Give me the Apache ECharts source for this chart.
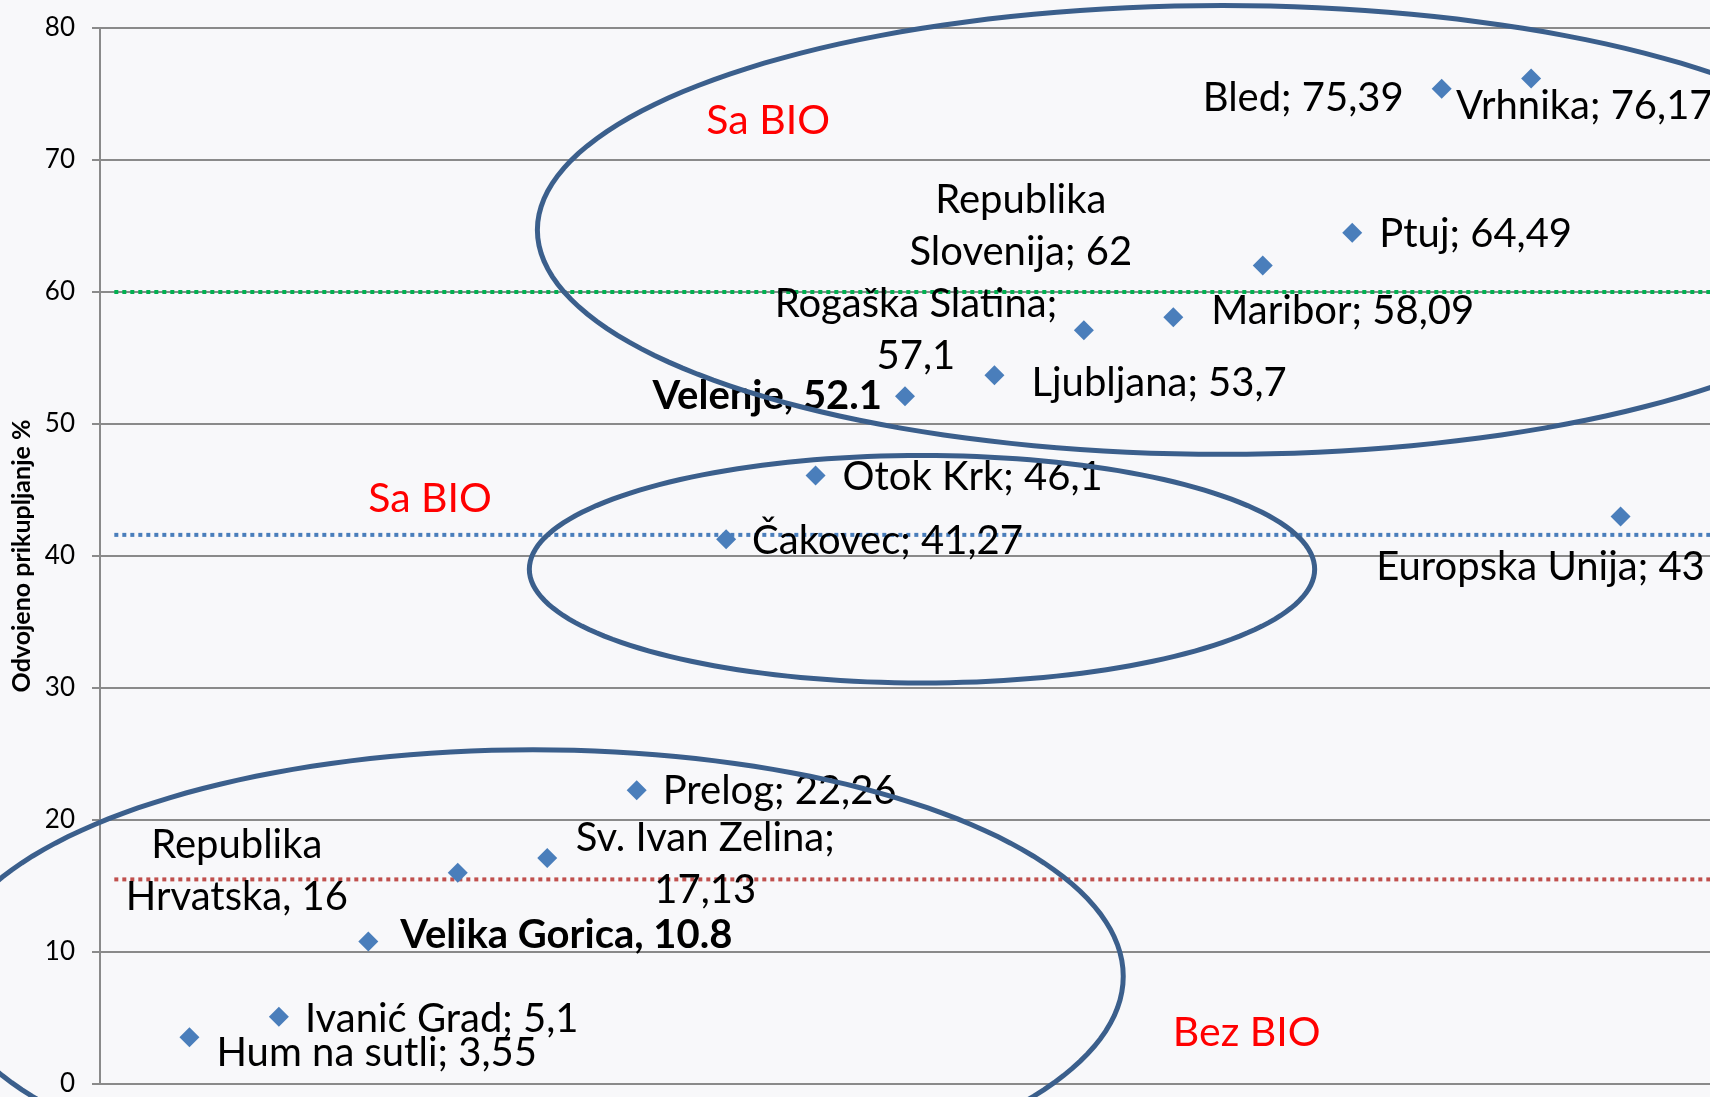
<!DOCTYPE html>
<html>
<head>
<meta charset="utf-8">
<script src="https://cdn.jsdelivr.net/npm/echarts@6/dist/echarts.min.js"></script>
<style>
  html, body { margin: 0; padding: 0; background: #f8f8fa; }
  #chart { width: 1710px; height: 1097px; }
</style>
</head>
<body>
<div id="chart"></div>
<script>
// gradovi / države, redom kao na slici
const places = [
  'Hum na sutli', 'Ivanić Grad', 'Velika Gorica', 'Republika Hrvatska', 'Sv. Ivan Zelina',
  'Prelog', 'Čakovec', 'Otok Krk', 'Velenje', 'Ljubljana', 'Rogaška Slatina', 'Maribor',
  'Republika Slovenija', 'Ptuj', 'Bled', 'Vrhnika', 'Europska Unija'
]
// odvojeno prikupljanje %
const values = [3.55, 5.1, 10.8, 16, 17.13, 22.26, 41.27, 46.1, 52.1, 53.7, 57.1, 58.09, 62, 64.49, 75.39, 76.17, 43]
// tekst oznaka kako je upisan u originalu
const labelTexts = [
  'Hum na sutli; 3,55', 'Ivanić Grad; 5,1', 'Velika Gorica, 10.8', 'Republika\nHrvatska, 16',
  'Sv. Ivan Zelina;\n17,13', 'Prelog; 22,26', 'Čakovec; 41,27', 'Otok Krk; 46,1', 'Velenje, 52.1',
  'Ljubljana; 53,7', 'Rogaška Slatina;\n57,1', 'Maribor; 58,09', 'Republika\nSlovenija; 62',
  'Ptuj; 64,49', 'Bled; 75,39', 'Vrhnika; 76,17', 'Europska Unija; 43'
]
const boldLabels = ['Velika Gorica', 'Velenje']
const yTicks = [0, 10, 20, 30, 40, 50, 60, 70, 80]

// referentne linije (prosjeci)
const refValues = [60, 41.6, 15.5]
const refColors = ['#00b050', '#4a7ebb', '#c0504d']

// elipse oko grupa: [centar x, centar y, radijus x, radijus y]
const groups = [
  [12.55, 64.7, 7.66, 17.0],
  [9.19, 39.0, 4.39, 8.62],
  [4.84, 8.16, 6.6, 17.16]
]
// natpisi grupa
const notes = ['Sa BIO', 'Sa BIO', 'Bez BIO']
const notePos = [[7.47, 73.0], [3.69, 44.3], [12.82, 3.9]]

// raspored oznaka: [poravnanje, dx, dy] u pikselima od točke
const labelLayout = [
  ['left', 27, 16], ['left', 26, 2], ['left', 32, -6], ['center', -221, -2],
  ['center', 158, 6], ['left', 26, 1], ['left', 26, 2], ['left', 27, 2],
  ['right', -23, 0], ['left', 37, 8], ['center', -168, 0], ['left', 38, -6],
  ['center', -242, -40], ['left', 27, 1], ['right', -38, 9], ['left', -75, 28],
  ['center', -80, 51]
]

const FONT = 'Lato'
const chart = echarts.init(document.getElementById('chart'))

const points = values.map((v, i) => {
  const lay = labelLayout[i]
  return {
    name: places[i],
    value: [i + 1, v],
    label: {
      formatter: labelTexts[i],
      position: [10 + lay[1], 10 + lay[2]],
      align: lay[0],
      verticalAlign: 'middle',
      fontWeight: boldLabels.includes(places[i]) ? 'bold' : 'normal'
    }
  }
})

const refSeries = refValues.map((v, i) => ({
  type: 'line',
  data: [[0.16, v], [18, v]],
  symbol: 'none',
  silent: true,
  z: 1,
  lineStyle: { color: refColors[i], width: 4, type: [4, 4], opacity: 1 }
}))

chart.setOption({
  backgroundColor: '#f8f8fa',
  animation: false,
  textStyle: { fontFamily: FONT },
  grid: { left: 100, right: 0, top: 28, bottom: 11 },
  xAxis: {
    type: 'value',
    min: 0,
    max: 18,
    axisLine: { lineStyle: { color: '#8a8a8a', width: 2 } },
    axisTick: { show: false },
    axisLabel: { show: false },
    splitLine: { show: false }
  },
  yAxis: {
    type: 'value',
    min: 0,
    max: 80,
    interval: 10,
    name: 'Odvojeno prikupljanje %',
    nameLocation: 'middle',
    nameGap: 63,
    nameTextStyle: { fontSize: 25, fontWeight: 'bold', color: '#000', fontFamily: FONT },
    axisLine: { show: true, lineStyle: { color: '#8a8a8a', width: 2 } },
    axisTick: { show: true, length: 8, lineStyle: { color: '#8a8a8a', width: 2 } },
    axisLabel: {
      color: '#000',
      fontSize: 26,
      margin: 25,
      formatter: v => (yTicks.includes(v) ? String(v) : '')
    },
    splitLine: { lineStyle: { color: '#8a8a8a', width: 2 } }
  },
  series: [
    ...refSeries,
    {
      type: 'scatter',
      data: points,
      symbol: 'diamond',
      symbolSize: 20,
      z: 3,
      itemStyle: { color: '#4a7ebb', opacity: 1 },
      label: {
        show: true,
        color: '#000',
        opacity: 1,
        fontSize: 40,
        lineHeight: 52,
        fontFamily: FONT
      }
    },
    {
      // natpisi "Sa BIO" / "Bez BIO"
      type: 'scatter',
      data: notePos.map((p, i) => ({ value: p, label: { formatter: notes[i] } })),
      symbolSize: 0,
      silent: true,
      z: 4,
      itemStyle: { opacity: 1 },
      label: {
        show: true,
        position: 'inside',
        color: '#ff0000',
        opacity: 1,
        fontSize: 41,
        fontFamily: FONT
      }
    },
    {
      // elipse oko grupa
      type: 'custom',
      data: groups,
      silent: true,
      z: 5,
      renderItem: (params, api) => {
        const cx = api.value(0)
        const cy = api.value(1)
        const rx = api.value(2)
        const ry = api.value(3)
        const pts = []
        for (let k = 0; k <= 180; k++) {
          const t = (k / 180) * Math.PI * 2
          pts.push(api.coord([cx + rx * Math.cos(t), cy + ry * Math.sin(t)]))
        }
        return {
          type: 'polygon',
          shape: { points: pts },
          style: { fill: 'none', stroke: '#3b5f8c', lineWidth: 5 }
        }
      }
    }
  ]
})
</script>
</body>
</html>
